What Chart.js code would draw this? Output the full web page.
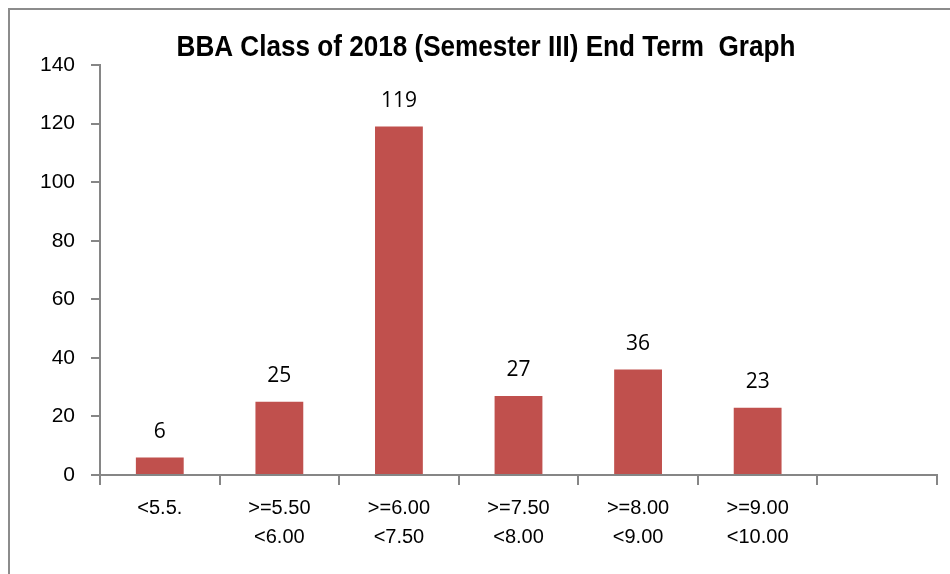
<!DOCTYPE html>
<html>
<head>
<meta charset="utf-8">
<script src="https://cdn.jsdelivr.net/npm/chart.js@4/dist/chart.umd.min.js"></script>
<style>
    html, body { margin: 0; padding: 0; background: #fff; }
    #wrap { position: relative; width: 950px; height: 574px; overflow: hidden; }
    #frame { position: absolute; left: 8px; top: 8px; width: 1000px; height: 700px; border: 2px solid #8c8c8c; box-sizing: border-box; }
    canvas { position: absolute; left: 0; top: 0; }
</style>
</head>
<body>
<div id="wrap">
    <div id="frame"></div>
    <canvas id="grade-chart" width="950" height="574"></canvas>
</div>
<script>
const chartTitle = 'BBA Class of 2018 (Semester III) End Term  Graph';
const gradeBands = [
    ['<5.5.'],
    ['>=5.50', '<6.00'],
    ['>=6.00', '<7.50'],
    ['>=7.50', '<8.00'],
    ['>=8.00', '<9.00'],
    ['>=9.00', '<10.00'],
    ['']
];
const studentCounts = [6, 25, 119, 27, 36, 23, null];
const yTicks = [0, 20, 40, 60, 80, 100, 120, 140];

const axisGrey = '#868686';
const labelFont = "'Liberation Sans', Arial, sans-serif";

// title + value labels drawn by hand
const decorations = {
    id: 'decorations',
    afterDatasetsDraw(chart) {
        const ctx = chart.ctx;
        ctx.save();
        ctx.fillStyle = '#000';
        ctx.textAlign = 'center';
        ctx.textBaseline = 'middle';
        // condensed look of the original title
        ctx.save();
        ctx.translate(486, 48);
        ctx.scale(0.9, 1);
        ctx.font = `bold 29px ${labelFont}`;
        ctx.fillText(chartTitle, 0, 0);
        ctx.restore();

        ctx.font = "21px 'Open Sans', sans-serif";
        ctx.textBaseline = 'bottom';
        chart.getDatasetMeta(0).data.forEach((bar, i) => {
            if (studentCounts[i] == null) return;
            ctx.fillText(String(studentCounts[i]), bar.x, bar.y - 15);
        });
        ctx.restore();
    }
};

new Chart(document.getElementById('grade-chart'), {
    type: 'bar',
    data: {
        labels: gradeBands,
        datasets: [{
            data: studentCounts,
            backgroundColor: '#C0504D',
            categoryPercentage: 1,
            barPercentage: 0.4
        }]
    },
    options: {
        responsive: false,
        animation: false,
        layout: { padding: { top: 65, right: 13, left: 0, bottom: 0 } },
        plugins: {
            legend: { display: false },
            tooltip: { enabled: false },
            title: { display: false }
        },
        scales: {
            x: {
                grid: {
                    offset: true,
                    drawOnChartArea: false,
                    tickLength: 10,
                    color: axisGrey,
                    lineWidth: 2
                },
                border: { color: axisGrey, width: 2 },
                ticks: {
                    color: '#000',
                    padding: 9,
                    maxRotation: 0,
                    font: { family: labelFont, size: 20, lineHeight: 1.45 }
                },
                afterFit(scale) { scale.height = 99; }
            },
            y: {
                min: 0,
                max: 140,
                afterBuildTicks(scale) { scale.ticks = yTicks.map(v => ({ value: v })); },
                grid: {
                    drawOnChartArea: false,
                    tickLength: 9,
                    color: axisGrey,
                    lineWidth: 2
                },
                border: { color: axisGrey, width: 2 },
                ticks: {
                    color: '#000',
                    padding: 16,
                    font: { family: labelFont, size: 21 }
                },
                afterFit(scale) { scale.width = 100; }
            }
        }
    },
    plugins: [decorations]
});
</script>
</body>
</html>
